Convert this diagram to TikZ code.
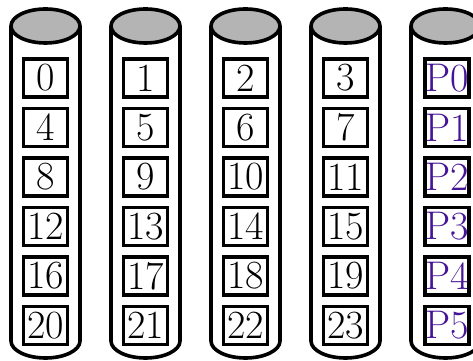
\documentclass[tikz,border=0pt]{standalone}
\usepackage{tikz}
\definecolor{pcol}{RGB}{70,20,150}
\definecolor{lidcol}{RGB}{180,180,180}
\begin{document}
\begin{tikzpicture}[x=0.75pt,y=0.75pt,
  disk/.style={line width=2.7pt},
  blk/.style={rectangle, draw=black, line width=2.4pt, fill=white,
              minimum width=33pt, minimum height=28.5pt, inner sep=0pt,
              font=\fontsize{30}{30}\selectfont},
  parblk/.style={blk, text=pcol},
]
\useasboundingbox (0,0) rectangle (473,360);

% disks
\foreach \c in {0,...,4} {
  \pgfmathsetmacro{\cx}{45.5+100*\c}
  \draw[disk, fill=white] (\cx-34.5,334) -- (\cx-34.5,19)
    arc[start angle=180, end angle=360, x radius=34.5, y radius=17] -- (\cx+34.5,334);
  \draw[disk, fill=lidcol] (\cx,334) ellipse[x radius=34.5, y radius=17];
}

% blocks and parity
\foreach \r in {0,...,5} {
  \pgfmathsetmacro{\ry}{282-49.5*\r}
  \foreach \c in {0,...,3} {
    \pgfmathtruncatemacro{\n}{4*\r+\c}
    \node[blk] (b\n) at (45.5+100*\c,\ry) {\n};
  }
  \node[parblk] (p\r) at (447,\ry) {P\r};
}
\end{tikzpicture}
\end{document}
